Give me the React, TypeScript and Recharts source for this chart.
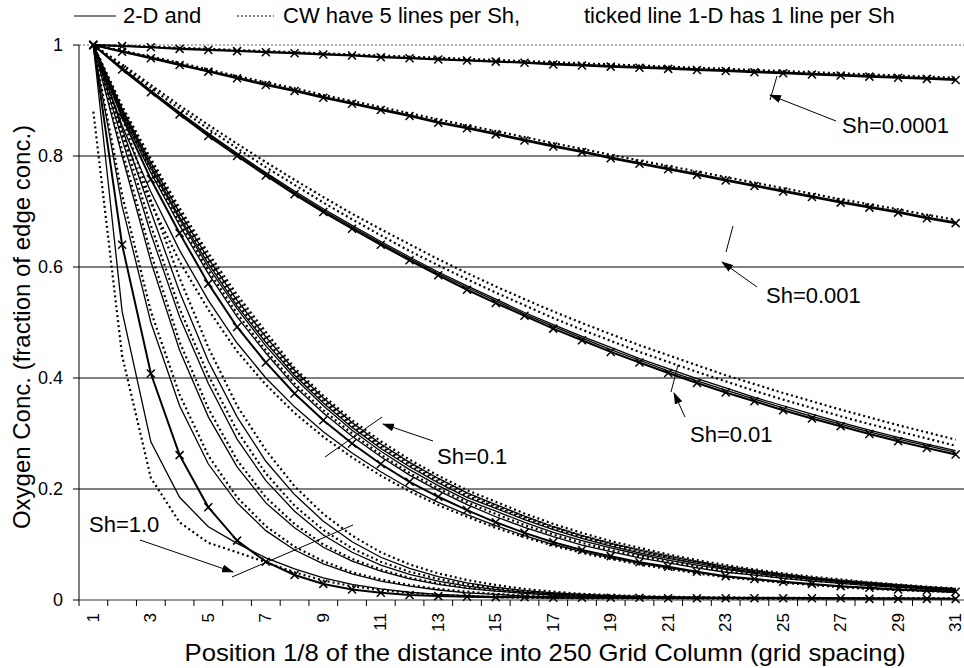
import React from "react";
import { LineChart, Line, XAxis, YAxis, ReferenceLine } from "recharts";

const FONT = '"Liberation Sans", Arial, sans-serif';

// grid position along the column (category axis)
const positions = [1, 2, 3, 4, 5, 6, 7, 8, 9, 10, 11, 12, 13, 14, 15, 16, 17, 18, 19, 20, 21, 22, 23, 24, 25, 26, 27, 28, 29, 30, 31];
const yTicks = [0, 0.2, 0.4, 0.6, 0.8, 1];

// Sh=0.0001
const sh00001_1d = [1, .998, .996, .993, .991, .989, .987, .985, .983, .981, .978, .976, .974, .972, .970, .968, .965, .963, .961, .959, .957, .955, .953, .951, .949, .947, .945, .943, .941, .939, .937];
const sh00001_2d = [1, .998, .996, .994, .992, .990, .988, .986, .984, .982, .979, .977, .975, .973, .971, .969, .967, .965, .963, .961, .959, .957, .955, .953, .951, .949, .947, .945, .943, .941, .939];
const sh00001_cw = [1, .999, .997, .995, .993, .991, .989, .987, .985, .983, .981, .979, .977, .975, .973, .971, .969, .967, .965, .963, .961, .959, .957, .955, .953, .951, .949, .947, .945, .943, .941];

// Sh=0.001
const sh0001_1d = [1, .988, .976, .964, .952, .940, .928, .917, .905, .894, .883, .872, .860, .850, .839, .828, .817, .807, .796, .786, .776, .766, .756, .746, .736, .726, .716, .707, .698, .688, .679];
const sh0001_2d = [1, .989, .978, .966, .954, .942, .930, .919, .907, .896, .885, .874, .862, .852, .841, .830, .819, .809, .798, .788, .778, .768, .758, .748, .738, .728, .718, .709, .700, .690, .681];
const sh0001_cw = [1, .990, .979, .968, .956, .944, .933, .922, .910, .899, .888, .877, .866, .855, .845, .834, .823, .813, .802, .792, .782, .772, .762, .752, .742, .732, .722, .713, .704, .694, .685];

// Sh=0.01
const sh001_1d = [1, .956, .915, .875, .836, .800, .765, .731, .699, .669, .640, .612, .585, .559, .535, .512, .489, .468, .447, .428, .409, .391, .374, .358, .342, .327, .313, .299, .286, .274, .262];
const sh001_2d_a = [1, .958, .917, .877, .839, .803, .768, .734, .702, .672, .643, .615, .588, .563, .539, .515, .493, .472, .451, .432, .413, .395, .378, .362, .346, .331, .317, .303, .290, .278, .266];
const sh001_2d_b = [1, .959, .918, .879, .841, .805, .770, .737, .705, .675, .646, .618, .591, .566, .542, .518, .496, .475, .455, .435, .417, .399, .382, .365, .350, .335, .320, .306, .293, .281, .269];
const sh001_cw_a = [1, .962, .923, .885, .849, .814, .780, .748, .716, .686, .657, .629, .603, .578, .554, .531, .508, .487, .467, .447, .429, .411, .394, .377, .361, .346, .331, .317, .304, .291, .278];
const sh001_cw_b = [1, .965, .928, .891, .856, .822, .789, .757, .726, .696, .668, .641, .614, .589, .565, .542, .520, .499, .479, .459, .441, .423, .405, .389, .373, .358, .343, .329, .315, .302, .289];

// Sh=0.1
const sh01_1d = [1, .870, .758, .661, .570, .492, .428, .372, .324, .282, .245, .213, .186, .162, .140, .121, .104, .090, .079, .068, .060, .051, .043, .038, .033, .029, .025, .022, .019, .017, .015];
const sh01_2d_1 = [1, .855, .735, .630, .540, .463, .400, .348, .303, .265, .231, .201, .176, .154, .134, .116, .100, .087, .076, .066, .058, .050, .042, .037, .032, .028, .024, .021, .018, .016, .014];
const sh01_2d_2 = [1, .875, .770, .675, .588, .510, .445, .385, .337, .295, .258, .225, .197, .172, .150, .131, .114, .099, .087, .076, .067, .058, .050, .045, .039, .034, .030, .026, .023, .020, .017];
const sh01_2d_3 = [1, .880, .778, .686, .600, .525, .458, .400, .350, .306, .268, .235, .206, .180, .160, .140, .122, .107, .094, .082, .072, .063, .055, .048, .042, .037, .032, .028, .024, .021, .018];
const sh01_2d_4 = [1, .882, .782, .690, .606, .530, .464, .405, .355, .311, .273, .240, .211, .185, .165, .145, .127, .111, .097, .085, .075, .066, .057, .050, .044, .038, .033, .029, .025, .022, .019];
const sh01_2d_5 = [1, .885, .788, .698, .615, .540, .474, .414, .364, .320, .281, .248, .219, .193, .172, .151, .132, .116, .102, .090, .079, .069, .060, .053, .046, .040, .035, .031, .027, .023, .020];
const sh01_cw_1 = [1, .840, .715, .610, .523, .448, .388, .337, .294, .257, .224, .196, .171, .150, .130, .113, .098, .085, .074, .064, .056, .048, .041, .036, .031, .027, .023, .020, .018, .016, .014];
const sh01_cw_2 = [1, .876, .773, .680, .594, .516, .450, .390, .342, .300, .262, .229, .201, .176, .155, .135, .118, .103, .090, .079, .069, .060, .052, .046, .040, .035, .031, .027, .023, .020, .018];
const sh01_cw_3 = [1, .884, .786, .695, .611, .535, .468, .408, .358, .314, .276, .243, .214, .188, .167, .147, .129, .113, .099, .087, .076, .067, .058, .051, .045, .039, .034, .030, .026, .022, .019];
const sh01_cw_4 = [1, .887, .790, .700, .618, .543, .476, .412, .362, .318, .280, .247, .218, .192, .170, .150, .132, .116, .102, .090, .079, .069, .060, .053, .046, .040, .035, .031, .027, .023, .020];
const sh01_cw_5 = [1, .890, .795, .706, .625, .550, .483, .418, .368, .324, .286, .253, .224, .198, .177, .156, .137, .121, .106, .094, .082, .072, .063, .055, .048, .042, .037, .032, .028, .024, .021];

// Sh=1.0
const sh1_1d = [1, .640, .408, .261, .167, .107, .069, .045, .029, .019, .013, .009, .007, .006, .005, .005, .004, .004, .004, .004, .003, .003, .003, .003, .003, .003, .003, .002, .002, .002, .002];
const sh1_2d_1 = [1, .520, .285, .185, .132, .102, .076, .056, .040, .028, .020, .014, .010, .008, .006, .005, .004, .004, .004, .003, .003, .003, .003, .003, .003, .002, .002, .002, .002, .002, .002];
const sh1_2d_2 = [1, .710, .500, .350, .245, .175, .125, .090, .065, .047, .034, .025, .018, .013, .010, .007, .006, .005, .004, .004, .004, .003, .003, .003, .003, .003, .003, .002, .002, .002, .002];
const sh1_2d_3 = [1, .800, .610, .450, .330, .240, .175, .130, .095, .070, .052, .038, .028, .021, .016, .012, .009, .007, .006, .005, .004, .004, .004, .003, .003, .003, .003, .003, .002, .002, .002];
const sh1_2d_4 = [1, .830, .660, .510, .390, .290, .215, .160, .117, .086, .063, .046, .034, .025, .019, .014, .011, .008, .007, .006, .005, .004, .004, .004, .003, .003, .003, .003, .003, .002, .002];
const sh1_2d_5 = [1, .850, .700, .555, .430, .330, .250, .190, .142, .105, .077, .057, .042, .031, .023, .017, .013, .010, .008, .006, .005, .005, .004, .004, .004, .003, .003, .003, .003, .003, .002];
const sh1_cw_1 = [.880, .440, .220, .140, .103, .086, .068, .050, .035, .025, .018, .013, .009, .007, .005, .004, .004, .003, .003, .003, .003, .003, .002, .002, .002, .002, .002, .002, .002, .002, .002];
const sh1_cw_2 = [1, .730, .520, .370, .260, .185, .133, .096, .070, .050, .037, .027, .020, .015, .011, .008, .006, .005, .004, .004, .004, .003, .003, .003, .003, .003, .003, .002, .002, .002, .002];
const sh1_cw_3 = [1, .810, .625, .465, .345, .252, .185, .137, .100, .074, .055, .040, .030, .022, .017, .013, .010, .008, .006, .005, .004, .004, .004, .003, .003, .003, .003, .003, .002, .002, .002];
const sh1_cw_4 = [1, .840, .675, .525, .405, .305, .228, .170, .126, .093, .069, .051, .038, .028, .021, .016, .012, .009, .007, .006, .005, .005, .004, .004, .004, .003, .003, .003, .003, .003, .002];
const sh1_cw_5 = [1, .870, .720, .580, .455, .350, .270, .205, .155, .116, .086, .064, .048, .036, .027, .020, .015, .011, .009, .007, .006, .005, .005, .004, .004, .004, .003, .003, .003, .003, .003];

type Kind = "1d" | "2d" | "cw";
const series: { key: string; kind: Kind; values: number[] }[] = [
  { key: "sh00001_cw", kind: "cw", values: sh00001_cw },
  { key: "sh00001_2d", kind: "2d", values: sh00001_2d },
  { key: "sh00001_1d", kind: "1d", values: sh00001_1d },
  { key: "sh0001_cw", kind: "cw", values: sh0001_cw },
  { key: "sh0001_2d", kind: "2d", values: sh0001_2d },
  { key: "sh0001_1d", kind: "1d", values: sh0001_1d },
  { key: "sh001_cw_a", kind: "cw", values: sh001_cw_a },
  { key: "sh001_cw_b", kind: "cw", values: sh001_cw_b },
  { key: "sh001_2d_a", kind: "2d", values: sh001_2d_a },
  { key: "sh001_2d_b", kind: "2d", values: sh001_2d_b },
  { key: "sh001_1d", kind: "1d", values: sh001_1d },
  { key: "sh01_cw_1", kind: "cw", values: sh01_cw_1 },
  { key: "sh01_cw_2", kind: "cw", values: sh01_cw_2 },
  { key: "sh01_cw_3", kind: "cw", values: sh01_cw_3 },
  { key: "sh01_cw_4", kind: "cw", values: sh01_cw_4 },
  { key: "sh01_cw_5", kind: "cw", values: sh01_cw_5 },
  { key: "sh01_2d_1", kind: "2d", values: sh01_2d_1 },
  { key: "sh01_2d_2", kind: "2d", values: sh01_2d_2 },
  { key: "sh01_2d_3", kind: "2d", values: sh01_2d_3 },
  { key: "sh01_2d_4", kind: "2d", values: sh01_2d_4 },
  { key: "sh01_2d_5", kind: "2d", values: sh01_2d_5 },
  { key: "sh01_1d", kind: "1d", values: sh01_1d },
  { key: "sh1_cw_1", kind: "cw", values: sh1_cw_1 },
  { key: "sh1_cw_2", kind: "cw", values: sh1_cw_2 },
  { key: "sh1_cw_3", kind: "cw", values: sh1_cw_3 },
  { key: "sh1_cw_4", kind: "cw", values: sh1_cw_4 },
  { key: "sh1_cw_5", kind: "cw", values: sh1_cw_5 },
  { key: "sh1_2d_1", kind: "2d", values: sh1_2d_1 },
  { key: "sh1_2d_2", kind: "2d", values: sh1_2d_2 },
  { key: "sh1_2d_3", kind: "2d", values: sh1_2d_3 },
  { key: "sh1_2d_4", kind: "2d", values: sh1_2d_4 },
  { key: "sh1_2d_5", kind: "2d", values: sh1_2d_5 },
  { key: "sh1_1d", kind: "1d", values: sh1_1d },
];

const rows = positions.map((k, i) => {
  const r: any = { k };
  series.forEach((s) => (r[s.key] = s.values[i]));
  return r;
});

// tick marks sit between categories, labels on odd positions
const xTicks = [...positions.map((p) => p - 0.5), positions[positions.length - 1] + 0.5, ...positions.filter((p) => p % 2 === 1)].sort((a, b) => a - b);

const XTick = (props: any) => {
  const { x, y, payload } = props;
  const v = payload.value;
  if (v % 1 !== 0) return <line x1={x} y1={y} x2={x} y2={y + 6} stroke="#000" strokeWidth={1} />;
  if (v % 2 === 0) return <g />;
  return (
    <text x={x} y={y + 13} dy="0.32em" transform={`rotate(-90 ${x} ${y + 13})`} textAnchor="end" fontSize={17} fontFamily={FONT} fill="#000">
      {v}
    </text>
  );
};

const xMark = (props: any) => {
  const { cx, cy, index, dataKey } = props;
  const s = 4;
  return (
    <path key={`${dataKey}-${index}`} d={`M${cx - s},${cy - s}L${cx + s},${cy + s}M${cx - s},${cy + s}L${cx + s},${cy - s}`} stroke="#000" strokeWidth={1.5} fill="none" />
  );
};

function Overlay() {
  const arrow = { stroke: "#000", strokeWidth: 1, markerEnd: "url(#ah)" };
  const lbl = { fontFamily: FONT, fontSize: 22, fill: "#000" };
  return (
    <svg width={964} height={668} style={{ position: "absolute", left: 0, top: 0, pointerEvents: "none" }}>
      <defs>
        <marker id="ah" markerWidth={12} markerHeight={8} refX={11} refY={4} orient="auto" markerUnits="userSpaceOnUse">
          <path d="M0,0 L12,4 L0,8 z" fill="#000" />
        </marker>
      </defs>
      {/* title */}
      <line x1={74} y1={16} x2={116} y2={16} stroke="#000" strokeWidth={1.2} />
      <text x={123} y={23} {...lbl}>2-D  and</text>
      <line x1={237} y1={16} x2={274} y2={16} stroke="#000" strokeWidth={1.2} strokeDasharray="2 2" />
      <text x={283} y={23} {...lbl}>CW have 5 lines per Sh,</text>
      <text x={584} y={23} {...lbl}>ticked line 1-D has 1 line per Sh</text>
      {/* axis titles */}
      <text x={22} y={327} transform="rotate(-90 22 327)" textAnchor="middle" dy="0.35em" fontFamily={FONT} fontSize={24} fill="#000">
        Oxygen Conc. (fraction of edge conc.)
      </text>
      <text x={545} y={661} textAnchor="middle" fontFamily={FONT} fontSize={24} fill="#000" textLength={721} lengthAdjust="spacingAndGlyphs">
        Position 1/8 of the distance into 250 Grid Column (grid spacing)
      </text>
      {/* annotations */}
      <text x={842} y={133} {...lbl}>Sh=0.0001</text>
      <line x1={836} y1={121} x2={770} y2={95} {...arrow} />
      <line x1={777} y1={76} x2={770} y2={100} stroke="#000" />
      <text x={766} y={303} {...lbl}>Sh=0.001</text>
      <line x1={757} y1={287} x2={722} y2={262} {...arrow} />
      <line x1={733} y1={226} x2={726} y2={252} stroke="#000" />
      <text x={690} y={442} {...lbl}>Sh=0.01</text>
      <line x1={685} y1={417} x2={674} y2={393} {...arrow} />
      <line x1={678} y1={365} x2={671} y2={392} stroke="#000" />
      <text x={437} y={464} {...lbl}>Sh=0.1</text>
      <line x1={433} y1={441} x2={383} y2={424} {...arrow} />
      <line x1={325} y1={457} x2={382} y2={417} stroke="#000" />
      <text x={89} y={532} {...lbl}>Sh=1.0</text>
      <line x1={140} y1={540} x2={233} y2={572} {...arrow} />
      <line x1={232} y1={577} x2={353} y2={525} stroke="#000" />
    </svg>
  );
}

export default function App() {
  return (
    <div style={{ position: "absolute", left: 0, top: 0, width: 964, height: 668, overflow: "hidden", background: "#fff" }}>
      <LineChart width={978} height={668} data={rows} margin={{ top: 45, right: 8, bottom: 0, left: 0 }}>
        {yTicks.filter((v) => v > 0 && v < 1).map((v) => (
          <ReferenceLine key={v} y={v} stroke="#000" strokeWidth={1} />
        ))}
        <ReferenceLine y={1} stroke="#666" strokeDasharray="2 2" />
        <XAxis
          dataKey="k"
          type="number"
          domain={[0.5, 31.5]}
          ticks={xTicks}
          interval={0}
          tick={<XTick />}
          tickLine={false}
          tickSize={0}
          tickMargin={0}
          height={68}
          axisLine={{ stroke: "#333" }}
          allowDecimals
        />
        <YAxis
          domain={[0, 1]}
          ticks={yTicks}
          width={79}
          tickSize={6}
          tickMargin={10}
          tick={{ fontSize: 18, fontFamily: FONT, fill: "#000" }}
          tickLine={{ stroke: "#000" }}
          axisLine={{ stroke: "#000" }}
          interval={0}
        />
        {series.map((s) => (
          <Line
            key={s.key}
            dataKey={s.key}
            type="linear"
            stroke="#000"
            strokeWidth={s.kind === "cw" ? 2.2 : s.kind === "1d" ? 2 : 1.3}
            strokeDasharray={s.kind === "cw" ? "2 3" : undefined}
            dot={s.kind === "1d" ? xMark : false}
            activeDot={false}
            isAnimationActive={false}
          />
        ))}
      </LineChart>
      <Overlay />
    </div>
  );
}
